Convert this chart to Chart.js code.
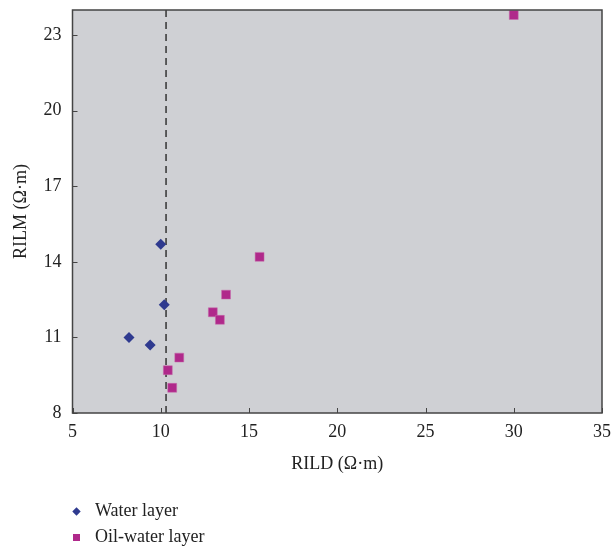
<!DOCTYPE html>
<html lang="en">
<head>
    <meta charset="UTF-8">
    <title>RILD vs RILM</title>
    <script src="https://cdn.jsdelivr.net/npm/chart.js"></script>
    <style>
        body {
            margin: 0;
            background-color: #ffffff;
            font-family: "Liberation Serif", "DejaVu Serif", serif;
        }

        .wrap {
            position: relative;
            width: 613px;
            height: 550px;
        }

        .legend {
            position: absolute;
            left: 73px;
            top: 497px;
            font-size: 18px;
            color: #222;
        }

        .legend div {
            height: 26px;
            line-height: 26px;
        }

        .mark {
            display: inline-block;
            width: 7px;
            height: 7px;
            margin-right: 15px;
            vertical-align: middle;
        }
    </style>
</head>
<body>

    <div class="wrap">
        <canvas id="scatterChart" width="613" height="550"></canvas>
        <div class="legend">
            <div><span class="mark" style="background:#2f3a8f;transform:rotate(45deg) scale(0.85);"></span>Water layer</div>
            <div><span class="mark" style="background:#b0298b;"></span>Oil-water layer</div>
        </div>
    </div>

    <script>
        // Water layer points
        const waterRild = [10.0, 10.2, 8.2, 9.4];
        const waterRilm = [14.7, 12.3, 11.0, 10.7];

        // Oil-water layer points
        const oilRild = [30.0, 15.6, 13.7, 12.95, 13.35, 11.05, 10.4, 10.65];
        const oilRilm = [23.8, 14.2, 12.7, 12.0, 11.7, 10.2, 9.7, 9.0];

        // cutoff line and axis ticks
        const cutoffRild = 10.3;
        const xTicks = [5, 10, 15, 20, 25, 30, 35];
        const yTicks = [8, 11, 14, 17, 20, 23];

        const toPoints = (xs, ys) => xs.map((x, i) => ({ x: x, y: ys[i] }));

        // grey plot area, frame and inward tick marks
        const plotFrame = {
            id: 'plotFrame',
            beforeDatasetsDraw(chart) {
                const { ctx, chartArea: a } = chart;
                ctx.save();
                ctx.fillStyle = '#cfd0d4';
                ctx.fillRect(a.left, a.top, a.right - a.left, a.bottom - a.top);
                ctx.restore();
            },
            afterDatasetsDraw(chart) {
                const { ctx, chartArea: a, scales } = chart;
                ctx.save();
                ctx.strokeStyle = '#444';
                ctx.lineWidth = 1.5;
                ctx.strokeRect(a.left, a.top, a.right - a.left, a.bottom - a.top);
                ctx.lineWidth = 1;
                ctx.beginPath();
                xTicks.forEach(v => {
                    const px = Math.round(scales.x.getPixelForValue(v)) + 0.5;
                    ctx.moveTo(px, a.bottom);
                    ctx.lineTo(px, a.bottom - 5);
                });
                yTicks.forEach(v => {
                    const py = Math.round(scales.y.getPixelForValue(v)) + 0.5;
                    ctx.moveTo(a.left, py);
                    ctx.lineTo(a.left + 5, py);
                });
                ctx.stroke();
                ctx.restore();
            }
        };

        const ctx = document.getElementById('scatterChart').getContext('2d');
        new Chart(ctx, {
            type: 'scatter',
            data: {
                datasets: [
                    {
                        label: 'Cutoff',
                        data: [{ x: cutoffRild, y: 8 }, { x: cutoffRild, y: 24 }],
                        showLine: true,
                        borderColor: '#333',
                        borderWidth: 1.5,
                        borderDash: [7, 5],
                        pointRadius: 0,
                        order: 2
                    },
                    {
                        label: 'Water layer',
                        data: toPoints(waterRild, waterRilm),
                        pointStyle: 'rectRot',
                        pointRadius: 5.5,
                        backgroundColor: '#2f3a8f',
                        borderColor: '#2f3a8f',
                        borderWidth: 0,
                        order: 1
                    },
                    {
                        label: 'Oil-water layer',
                        data: toPoints(oilRild, oilRilm),
                        pointStyle: 'rect',
                        pointRadius: 6.3,
                        backgroundColor: '#b0298b',
                        borderColor: '#c76aaa',
                        borderWidth: 0.5,
                        order: 1
                    }
                ]
            },
            options: {
                responsive: false,
                animation: false,
                layout: {
                    padding: { left: 0, top: 10, right: 11, bottom: 67 }
                },
                plugins: {
                    legend: { display: false },
                    tooltip: { enabled: false }
                },
                scales: {
                    x: {
                        type: 'linear',
                        min: 5,
                        max: 35,
                        grid: { display: false },
                        border: { display: false },
                        afterFit(scale) {
                            scale.height = 70;
                            scale.paddingLeft = 0;
                            scale.paddingRight = 0;
                        },
                        afterBuildTicks(scale) { scale.ticks = xTicks.map(v => ({ value: v })); },
                        ticks: {
                            color: '#222',
                            padding: 0,
                            maxRotation: 0,
                            font: { family: 'Liberation Serif', size: 18 }
                        },
                        title: {
                            display: true,
                            text: 'RILD (Ω·m)',
                            color: '#222',
                            padding: { top: 8, bottom: 8 },
                            font: { family: 'Liberation Serif', size: 18 }
                        }
                    },
                    y: {
                        type: 'linear',
                        min: 8,
                        max: 24,
                        grid: { display: false },
                        border: { display: false },
                        afterFit(scale) {
                            scale.width = 72.5;
                            scale.paddingTop = 0;
                            scale.paddingBottom = 0;
                        },
                        afterBuildTicks(scale) { scale.ticks = yTicks.map(v => ({ value: v })); },
                        ticks: {
                            color: '#222',
                            padding: 3,
                            font: { family: 'Liberation Serif', size: 18 }
                        },
                        title: {
                            display: true,
                            text: 'RILM (Ω·m)',
                            color: '#222',
                            padding: { top: 10, bottom: 4 },
                            font: { family: 'Liberation Serif', size: 18 }
                        }
                    }
                }
            },
            plugins: [plotFrame]
        });
    </script>
</body>
</html>
